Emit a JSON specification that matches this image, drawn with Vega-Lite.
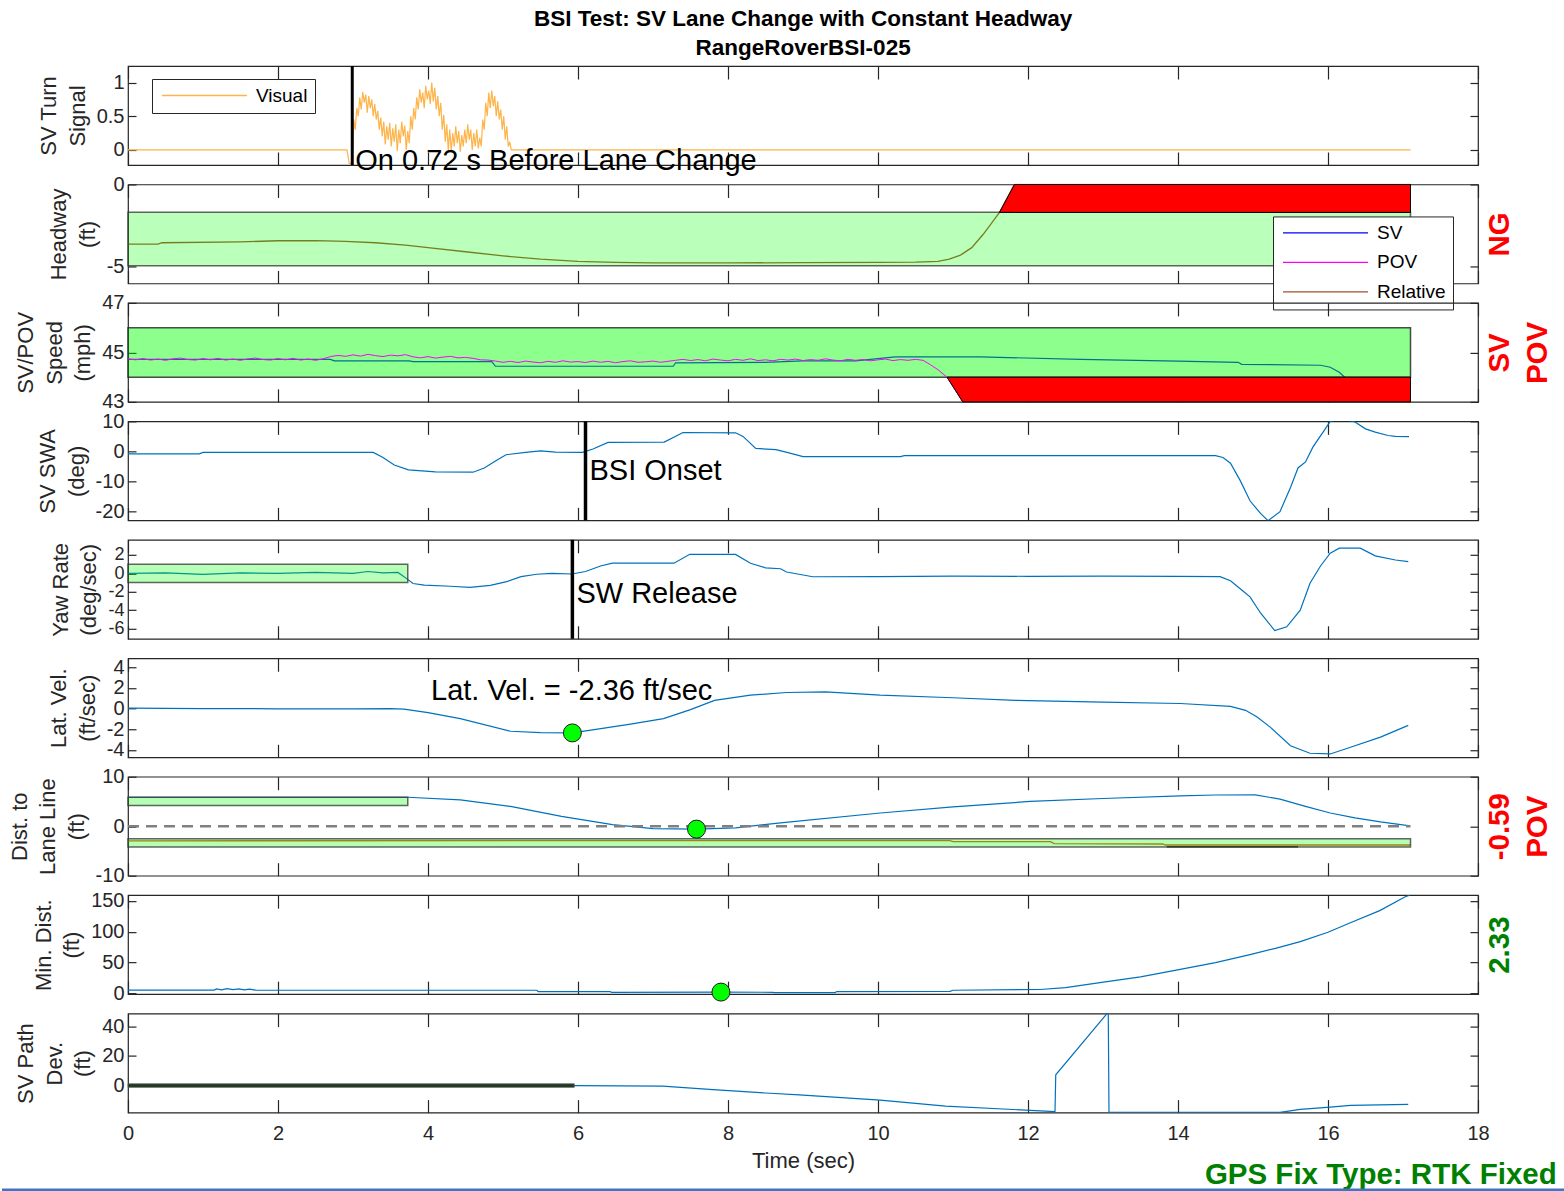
{
"$schema": "https://vega.github.io/schema/vega-lite/v6.json",
"background": "white",
"padding": {"left": 0, "top": 8, "right": 0, "bottom": 0},
"title": {"text": ["BSI Test: SV Lane Change with Constant Headway", "RangeRoverBSI-025"], "font": "Liberation Sans", "fontSize": 22.5, "fontWeight": "bold", "color": "#000000", "lineHeight": 29, "anchor": "middle", "offset": 4, "dx": 20},
"spacing": 19.45,
"bounds": "flush",
"resolve": {"scale": {"color": "independent"}, "legend": {"color": "independent"}},
"config": {
  "font": "Liberation Sans",
  "view": {"stroke": "#262626", "strokeWidth": 1.2},
  "axis": {"grid": false, "domain": false, "labelFont": "Liberation Sans", "labelFontSize": 20, "labelColor": "#262626", "titleFont": "Liberation Sans", "titleFontSize": 22, "titleFontWeight": "normal", "titleColor": "#262626", "tickColor": "#262626", "tickWidth": 1.2, "labelOverlap": false, "labelBound": false, "labelFlush": false, "labelExpr": "'' + datum.value"},
  "axisX": {"tickSize": -13, "labelPadding": 24, "titlePadding": 7},
  "axisY": {"tickSize": -8, "labelPadding": 12, "titlePadding": 7, "titleLineHeight": 28.5}
},
"datasets": {
  "turn": [{"t":0,"v":0},{"t":2.92,"v":0},{"t":2.95,"v":-0.2},{"t":2.98,"v":-0.2},{"t":3.0,"v":0.05},{"t":3.01,"v":0.45},{"t":3.03,"v":0.3},{"t":3.05,"v":0.62},{"t":3.07,"v":0.5},{"t":3.09,"v":0.78},{"t":3.11,"v":0.6},{"t":3.13,"v":0.86},{"t":3.15,"v":0.7},{"t":3.17,"v":0.82},{"t":3.19,"v":0.55},{"t":3.21,"v":0.8},{"t":3.23,"v":0.62},{"t":3.25,"v":0.75},{"t":3.27,"v":0.5},{"t":3.29,"v":0.68},{"t":3.31,"v":0.45},{"t":3.33,"v":0.58},{"t":3.35,"v":0.3},{"t":3.37,"v":0.48},{"t":3.39,"v":0.2},{"t":3.41,"v":0.42},{"t":3.43,"v":0.08},{"t":3.45,"v":0.35},{"t":3.47,"v":0.15},{"t":3.49,"v":0.4},{"t":3.51,"v":0.05},{"t":3.53,"v":0.32},{"t":3.55,"v":0.12},{"t":3.57,"v":0.38},{"t":3.59,"v":-0.02},{"t":3.61,"v":0.3},{"t":3.63,"v":0.1},{"t":3.65,"v":0.42},{"t":3.67,"v":0.2},{"t":3.69,"v":0.36},{"t":3.71,"v":0.0},{"t":3.73,"v":0.28},{"t":3.75,"v":0.1},{"t":3.77,"v":0.5},{"t":3.79,"v":0.3},{"t":3.81,"v":0.62},{"t":3.83,"v":0.45},{"t":3.85,"v":0.78},{"t":3.87,"v":0.6},{"t":3.89,"v":0.9},{"t":3.91,"v":0.7},{"t":3.93,"v":0.85},{"t":3.95,"v":0.62},{"t":3.97,"v":0.95},{"t":3.99,"v":0.75},{"t":4.01,"v":0.88},{"t":4.03,"v":0.68},{"t":4.05,"v":1.0},{"t":4.07,"v":0.72},{"t":4.09,"v":0.92},{"t":4.11,"v":0.6},{"t":4.13,"v":0.8},{"t":4.15,"v":0.5},{"t":4.17,"v":0.7},{"t":4.19,"v":0.3},{"t":4.21,"v":0.52},{"t":4.23,"v":0.12},{"t":4.25,"v":0.38},{"t":4.27,"v":0.0},{"t":4.29,"v":0.3},{"t":4.31,"v":-0.02},{"t":4.33,"v":0.25},{"t":4.35,"v":0.05},{"t":4.37,"v":0.35},{"t":4.39,"v":0.1},{"t":4.41,"v":0.28},{"t":4.43,"v":-0.03},{"t":4.45,"v":0.22},{"t":4.47,"v":0.05},{"t":4.49,"v":0.3},{"t":4.51,"v":0.1},{"t":4.53,"v":0.38},{"t":4.55,"v":0.15},{"t":4.57,"v":0.3},{"t":4.59,"v":0.0},{"t":4.61,"v":0.25},{"t":4.63,"v":0.05},{"t":4.65,"v":0.3},{"t":4.67,"v":0.02},{"t":4.69,"v":0.18},{"t":4.71,"v":0.05},{"t":4.73,"v":0.45},{"t":4.75,"v":0.3},{"t":4.77,"v":0.7},{"t":4.79,"v":0.5},{"t":4.81,"v":0.85},{"t":4.83,"v":0.62},{"t":4.85,"v":0.88},{"t":4.87,"v":0.65},{"t":4.89,"v":0.8},{"t":4.91,"v":0.5},{"t":4.93,"v":0.72},{"t":4.95,"v":0.45},{"t":4.97,"v":0.6},{"t":4.99,"v":0.3},{"t":5.01,"v":0.5},{"t":5.03,"v":0.15},{"t":5.05,"v":0.35},{"t":5.07,"v":0.05},{"t":5.09,"v":0.12},{"t":5.11,"v":0.0},{"t":17.1,"v":0}],
  "turn_on": [{"t":2.99,"v":-0.173,"label":"On 0.72 s Before Lane Change"}],
  "headway": [{"t":0,"v":-3.64},{"t":0.4,"v":-3.63},{"t":0.45,"v":-3.55},{"t":1.5,"v":-3.5},{"t":2.0,"v":-3.43},{"t":2.5,"v":-3.42},{"t":2.9,"v":-3.47},{"t":3.3,"v":-3.55},{"t":3.7,"v":-3.7},{"t":4.0,"v":-3.85},{"t":4.5,"v":-4.1},{"t":5.0,"v":-4.35},{"t":5.5,"v":-4.55},{"t":6.0,"v":-4.68},{"t":6.5,"v":-4.75},{"t":7.0,"v":-4.78},{"t":8.0,"v":-4.78},{"t":9.0,"v":-4.76},{"t":10.0,"v":-4.75},{"t":10.5,"v":-4.73},{"t":10.8,"v":-4.68},{"t":10.95,"v":-4.55},{"t":11.1,"v":-4.3},{"t":11.25,"v":-3.85},{"t":11.4,"v":-3.05},{"t":11.5,"v":-2.45},{"t":11.62,"v":-1.7},{"t":11.82,"v":0},{"t":11.95,"v":0.9}],
  "headway_band": [{"t":0,"t2":17.1,"v":-4.95,"v2":-1.7}],
  "headway_red": [{"t":11.62,"v":-1.7,"v2":-1.7},{"t":11.82,"v":0,"v2":-1.7},{"t":17.1,"v":0,"v2":-1.7}],
  "sv_speed": [{"t":0,"v":44.72},{"t":2.7,"v":44.72},{"t":2.75,"v":44.66},{"t":3.75,"v":44.66},{"t":3.8,"v":44.63},{"t":4.85,"v":44.63},{"t":4.9,"v":44.44},{"t":7.27,"v":44.44},{"t":7.3,"v":44.58},{"t":8.5,"v":44.6},{"t":9.0,"v":44.66},{"t":9.7,"v":44.66},{"t":10.23,"v":44.82},{"t":11.36,"v":44.82},{"t":12.7,"v":44.72},{"t":14.0,"v":44.65},{"t":14.8,"v":44.6},{"t":14.85,"v":44.52},{"t":15.9,"v":44.48},{"t":16.03,"v":44.4},{"t":16.15,"v":44.2},{"t":16.23,"v":43.98},{"t":16.4,"v":43.7}],
  "pov_speed": [{"t":0.0,"v":44.74},{"t":0.1,"v":44.7},{"t":0.2,"v":44.75},{"t":0.3,"v":44.69},{"t":0.4,"v":44.73},{"t":0.5,"v":44.68},{"t":0.6,"v":44.74},{"t":0.7,"v":44.77},{"t":0.8,"v":44.71},{"t":0.9,"v":44.69},{"t":1.0,"v":44.75},{"t":1.1,"v":44.7},{"t":1.2,"v":44.76},{"t":1.3,"v":44.69},{"t":1.4,"v":44.73},{"t":1.5,"v":44.68},{"t":1.6,"v":44.74},{"t":1.7,"v":44.77},{"t":1.8,"v":44.71},{"t":1.9,"v":44.69},{"t":2.0,"v":44.75},{"t":2.1,"v":44.7},{"t":2.2,"v":44.76},{"t":2.3,"v":44.69},{"t":2.4,"v":44.73},{"t":2.5,"v":44.68},{"t":2.6,"v":44.74},{"t":2.7,"v":44.83},{"t":2.8,"v":44.88},{"t":2.9,"v":44.84},{"t":3.0,"v":44.9},{"t":3.1,"v":44.85},{"t":3.2,"v":44.92},{"t":3.3,"v":44.87},{"t":3.4,"v":44.83},{"t":3.5,"v":44.89},{"t":3.6,"v":44.86},{"t":3.7,"v":44.91},{"t":3.8,"v":44.82},{"t":3.9,"v":44.78},{"t":4.0,"v":44.83},{"t":4.1,"v":44.77},{"t":4.2,"v":44.81},{"t":4.3,"v":44.84},{"t":4.4,"v":44.78},{"t":4.5,"v":44.8},{"t":4.6,"v":44.76},{"t":4.7,"v":44.7},{"t":4.8,"v":44.69},{"t":4.9,"v":44.65},{"t":5.0,"v":44.6},{"t":5.1,"v":44.64},{"t":5.2,"v":44.59},{"t":5.3,"v":44.65},{"t":5.4,"v":44.61},{"t":5.5,"v":44.58},{"t":5.6,"v":44.64},{"t":5.7,"v":44.6},{"t":5.8,"v":44.66},{"t":5.9,"v":44.61},{"t":6.0,"v":44.63},{"t":6.1,"v":44.59},{"t":6.2,"v":44.65},{"t":6.3,"v":44.6},{"t":6.4,"v":44.64},{"t":6.5,"v":44.58},{"t":6.6,"v":44.63},{"t":6.7,"v":44.66},{"t":6.8,"v":44.6},{"t":6.9,"v":44.62},{"t":7.0,"v":44.65},{"t":7.1,"v":44.6},{"t":7.2,"v":44.64},{"t":7.3,"v":44.68},{"t":7.4,"v":44.72},{"t":7.5,"v":44.67},{"t":7.6,"v":44.71},{"t":7.7,"v":44.66},{"t":7.8,"v":44.73},{"t":7.9,"v":44.69},{"t":8.0,"v":44.66},{"t":8.1,"v":44.72},{"t":8.2,"v":44.68},{"t":8.3,"v":44.74},{"t":8.4,"v":44.67},{"t":8.5,"v":44.7},{"t":8.6,"v":44.66},{"t":8.7,"v":44.72},{"t":8.8,"v":44.69},{"t":8.9,"v":44.73},{"t":9.0,"v":44.67},{"t":9.1,"v":44.71},{"t":9.2,"v":44.68},{"t":9.3,"v":44.74},{"t":9.4,"v":44.69},{"t":9.5,"v":44.66},{"t":9.6,"v":44.72},{"t":9.7,"v":44.68},{"t":9.8,"v":44.71},{"t":9.9,"v":44.66},{"t":10.0,"v":44.7},{"t":10.1,"v":44.73},{"t":10.2,"v":44.67},{"t":10.3,"v":44.71},{"t":10.4,"v":44.68},{"t":10.5,"v":44.72},{"t":10.6,"v":44.68},{"t":10.7,"v":44.5},{"t":10.8,"v":44.3},{"t":10.92,"v":44.0},{"t":11.13,"v":43.0}],
  "speed_band": [{"t":0,"t2":17.1,"v":44,"v2":46}],
  "speed_red": [{"t":10.92,"v":44,"v2":44},{"t":11.13,"v":44,"v2":43},{"t":17.1,"v":44,"v2":43}],
  "swa": [{"t":0,"v":-0.8},{"t":0.95,"v":-0.8},{"t":1.0,"v":-0.3},{"t":3.27,"v":-0.3},{"t":3.4,"v":-2.0},{"t":3.55,"v":-4.5},{"t":3.74,"v":-6.1},{"t":4.1,"v":-6.8},{"t":4.6,"v":-6.9},{"t":4.75,"v":-5.5},{"t":4.9,"v":-3.2},{"t":5.04,"v":-1.1},{"t":5.3,"v":-0.3},{"t":5.5,"v":0.2},{"t":5.7,"v":-0.2},{"t":6.06,"v":-0.3},{"t":6.2,"v":0.8},{"t":6.4,"v":3.0},{"t":7.15,"v":3.1},{"t":7.4,"v":6.3},{"t":8.1,"v":6.2},{"t":8.2,"v":5.0},{"t":8.37,"v":1.0},{"t":8.64,"v":0.6},{"t":8.8,"v":-0.4},{"t":9.0,"v":-1.7},{"t":10.3,"v":-1.7},{"t":10.35,"v":-1.4},{"t":14.5,"v":-1.4},{"t":14.6,"v":-2.0},{"t":14.7,"v":-3.9},{"t":14.83,"v":-9.7},{"t":14.96,"v":-16.4},{"t":15.1,"v":-20.6},{"t":15.2,"v":-23},{"t":15.36,"v":-20},{"t":15.5,"v":-12},{"t":15.6,"v":-5.5},{"t":15.7,"v":-3.5},{"t":15.8,"v":1.5},{"t":15.95,"v":7},{"t":16.03,"v":10},{"t":16.1,"v":10.4},{"t":16.25,"v":10.4},{"t":16.36,"v":9.8},{"t":16.5,"v":7.5},{"t":16.63,"v":6.4},{"t":16.8,"v":5.3},{"t":16.9,"v":5.0},{"t":17.08,"v":4.9}],
  "onset": [{"t":6.1,"v":-6.53,"label":"BSI Onset"}],
  "yaw": [{"t":0,"v":0},{"t":0.5,"v":0.05},{"t":1,"v":-0.1},{"t":1.5,"v":0.05},{"t":2,"v":0},{"t":2.5,"v":0.1},{"t":3.0,"v":0.0},{"t":3.2,"v":0.2},{"t":3.4,"v":0.05},{"t":3.6,"v":0.1},{"t":3.72,"v":-0.6},{"t":3.8,"v":-1.1},{"t":3.95,"v":-1.28},{"t":4.3,"v":-1.4},{"t":4.56,"v":-1.53},{"t":4.83,"v":-1.3},{"t":5.05,"v":-0.9},{"t":5.24,"v":-0.36},{"t":5.45,"v":-0.1},{"t":5.65,"v":0.0},{"t":5.92,"v":-0.07},{"t":6.1,"v":0.2},{"t":6.3,"v":0.8},{"t":6.46,"v":1.1},{"t":7.28,"v":1.1},{"t":7.49,"v":2.07},{"t":8.1,"v":2.05},{"t":8.3,"v":1.1},{"t":8.5,"v":0.6},{"t":8.7,"v":0.5},{"t":8.78,"v":0.15},{"t":9.13,"v":-0.37},{"t":10,"v":-0.35},{"t":11,"v":-0.3},{"t":12,"v":-0.32},{"t":13,"v":-0.3},{"t":14,"v":-0.32},{"t":14.56,"v":-0.35},{"t":14.7,"v":-0.8},{"t":14.85,"v":-1.8},{"t":14.96,"v":-2.55},{"t":15.1,"v":-4.3},{"t":15.29,"v":-6.2},{"t":15.45,"v":-5.8},{"t":15.63,"v":-4.0},{"t":15.76,"v":-1.07},{"t":15.9,"v":0.8},{"t":16.03,"v":2.18},{"t":16.15,"v":2.73},{"t":16.43,"v":2.73},{"t":16.63,"v":1.9},{"t":16.9,"v":1.45},{"t":17.07,"v":1.27}],
  "yaw_band": [{"t":0,"t2":3.73,"v":-1,"v2":1}],
  "release": [{"t":5.925,"v":-2.19,"label":"SW Release"}],
  "latvel": [{"t":0,"v":0.05},{"t":1.0,"v":0.0},{"t":2.0,"v":-0.02},{"t":3.0,"v":-0.02},{"t":3.5,"v":0.0},{"t":3.68,"v":-0.05},{"t":4.0,"v":-0.4},{"t":4.43,"v":-0.98},{"t":5.1,"v":-2.2},{"t":5.5,"v":-2.33},{"t":5.925,"v":-2.36},{"t":6.26,"v":-2.0},{"t":6.7,"v":-1.5},{"t":7.14,"v":-0.98},{"t":7.5,"v":-0.1},{"t":7.82,"v":0.8},{"t":8.3,"v":1.3},{"t":8.78,"v":1.56},{"t":9.3,"v":1.62},{"t":10.03,"v":1.3},{"t":11.0,"v":1.05},{"t":11.83,"v":0.8},{"t":13.0,"v":0.62},{"t":14.03,"v":0.49},{"t":14.7,"v":0.22},{"t":14.9,"v":-0.17},{"t":15.05,"v":-0.8},{"t":15.23,"v":-1.8},{"t":15.5,"v":-3.6},{"t":15.76,"v":-4.33},{"t":16.03,"v":-4.4},{"t":16.3,"v":-3.75},{"t":16.7,"v":-2.77},{"t":17.07,"v":-1.63}],
  "latvel_pt": [{"t":5.925,"v":-2.36}],
  "latvel_note": [{"t":4.04,"v":1.66,"label":"Lat. Vel. = -2.36 ft/sec"}],
  "lane": [{"t":0,"v":5.85},{"t":3.73,"v":5.85},{"t":4.43,"v":5.33},{"t":5.1,"v":4.0},{"t":5.78,"v":2.0},{"t":6.46,"v":0.3},{"t":6.67,"v":0.0},{"t":7.0,"v":-0.47},{"t":7.58,"v":-0.59},{"t":8.1,"v":-0.33},{"t":8.7,"v":0.67},{"t":10.03,"v":2.67},{"t":11.0,"v":3.9},{"t":12.03,"v":5.0},{"t":13.0,"v":5.6},{"t":14.03,"v":6.13},{"t":14.5,"v":6.3},{"t":15.03,"v":6.33},{"t":15.36,"v":5.47},{"t":15.7,"v":4.0},{"t":16.03,"v":2.67},{"t":16.36,"v":1.67},{"t":16.7,"v":0.87},{"t":17.07,"v":0.13}],
  "lane_pov": [{"t":0,"v":-2.95},{"t":10.96,"v":-2.9},{"t":11.0,"v":-3.12},{"t":12.3,"v":-3.12},{"t":12.35,"v":-3.52},{"t":13.8,"v":-3.6},{"t":13.83,"v":-3.8},{"t":17.1,"v":-3.8}],
  "lane_edge": [{"t":13.85,"v":-4.15},{"t":15.6,"v":-4.15}],
  "lane_bands": [{"t":0,"t2":3.73,"v":4.2,"v2":5.87},{"t":0,"t2":17.1,"v":-4.2,"v2":-2.56}],
  "lane_zero": [{"t":0,"t2":17.1,"v":0}],
  "lane_pt": [{"t":7.58,"v":-0.59}],
  "mindist": [{"t":0,"v":5.5},{"t":1.15,"v":5.5},{"t":1.18,"v":7.5},{"t":1.25,"v":6.0},{"t":1.32,"v":7.8},{"t":1.4,"v":6.2},{"t":1.48,"v":7.6},{"t":1.55,"v":6.0},{"t":1.62,"v":7.2},{"t":1.7,"v":5.6},{"t":5.45,"v":5.3},{"t":5.47,"v":3.2},{"t":6.43,"v":3.0},{"t":6.45,"v":1.8},{"t":7.906,"v":2.33},{"t":8.6,"v":2.0},{"t":8.62,"v":1.5},{"t":9.43,"v":1.5},{"t":9.45,"v":3.2},{"t":10.96,"v":3.5},{"t":11.0,"v":5.3},{"t":12.16,"v":6.5},{"t":12.5,"v":9.5},{"t":12.96,"v":17.6},{"t":13.5,"v":27},{"t":14.03,"v":39},{"t":14.5,"v":50},{"t":14.96,"v":63},{"t":15.3,"v":73},{"t":15.63,"v":84},{"t":16.0,"v":99},{"t":16.29,"v":114},{"t":16.69,"v":134},{"t":17.03,"v":156.4},{"t":17.09,"v":159}],
  "mindist_pt": [{"t":7.906,"v":2.33}],
  "pathdev": [{"t":0,"v":0},{"t":5.95,"v":0},{"t":7.13,"v":-0.3},{"t":7.8,"v":-2.7},{"t":8.5,"v":-5.0},{"t":8.95,"v":-6.3},{"t":10.03,"v":-9.8},{"t":10.9,"v":-13.8},{"t":12.03,"v":-16.7},{"t":12.36,"v":-17.6},{"t":12.37,"v":7.3},{"t":13.07,"v":49.5},{"t":13.08,"v":-18.1},{"t":15.36,"v":-18.1},{"t":15.63,"v":-16},{"t":16.03,"v":-14.5},{"t":16.3,"v":-13.3},{"t":17.07,"v":-12.7}],
  "path_box": [{"t":0,"t2":5.95,"v":-1.2,"v2":1.2}],
  "footer": [{"t":19.05,"v":-60.5,"label":"GPS Fix Type: RTK Fixed"}],
  "footer_rule": [{"t":-1.68,"t2":19.15,"v":-70.2}]
},
"vconcat": [
{
  "width": 1350, "height": 99,
  "resolve": {"scale": {"x": "independent", "y": "independent"}},
  "layer": [
    {"data": {"name": "turn"}, "mark": {"type": "line", "clip": true, "strokeWidth": 1.2},
     "encoding": {
       "x": {"field": "t", "type": "quantitative", "scale": {"domain": [0, 18], "nice": false, "zero": false}, "axis": {"orient": "bottom", "values": [0,2,4,6,8,10,12,14,16,18], "labels": false, "title": null}},
       "y": {"field": "v", "type": "quantitative", "scale": {"domain": [-0.225, 1.245], "nice": false, "zero": false}, "axis": {"orient": "left", "values": [0, 0.5, 1], "title": ["SV Turn", "Signal"]}},
       "color": {"datum": "Visual", "type": "nominal", "scale": {"domain": ["Visual"], "range": ["#FDB44B"]}, "legend": {"orient": "none", "legendX": 24, "legendY": 13, "title": null, "symbolType": "M-5,0H5", "symbolSize": 289, "symbolStrokeWidth": 1.3, "symbolOffset": 36, "labelOffset": 42, "padding": 7, "rowPadding": 9.5, "strokeColor": "#262626", "fillColor": "#ffffff", "labelFont": "Liberation Sans", "labelFontSize": 19, "labelColor": "#000000"}}
     }},
    {"data": {"name": "turn_on"}, "mark": {"type": "rule", "color": "#000000", "strokeWidth": 3},
     "encoding": {"x": {"field": "t", "type": "quantitative", "scale": {"domain": [0, 18], "nice": false, "zero": false}, "axis": null}}},
    {"data": {"name": "turn_on"}, "mark": {"type": "text", "align": "left", "baseline": "middle", "dx": 3, "font": "Liberation Sans", "fontSize": 29, "color": "#000000"},
     "encoding": {
       "x": {"field": "t", "type": "quantitative", "scale": {"domain": [0, 18], "nice": false, "zero": false}, "axis": null},
       "y": {"field": "v", "type": "quantitative", "scale": {"domain": [-0.225, 1.245], "nice": false, "zero": false}, "axis": null},
       "text": {"field": "label"}
     }},
    {"data": {"name": "turn"}, "mark": {"type": "point", "opacity": 0, "clip": true},
     "encoding": {
       "x": {"field": "t", "type": "quantitative", "scale": {"domain": [0, 18], "nice": false, "zero": false}, "axis": {"orient": "top", "values": [0,2,4,6,8,10,12,14,16,18], "labels": false, "title": null}},
       "y": {"field": "v", "type": "quantitative", "scale": {"domain": [-0.225, 1.245], "nice": false, "zero": false}, "axis": {"orient": "right", "values": [0, 0.5, 1], "labels": false, "title": null}}
     }}
  ]
},
{
  "width": 1350, "height": 99,
  "resolve": {"scale": {"x": "independent", "y": "independent"}},
  "layer": [
    {"data": {"name": "headway"}, "mark": {"type": "line", "clip": true, "strokeWidth": 1.3},
     "encoding": {
       "x": {"field": "t", "type": "quantitative", "scale": {"domain": [0, 18], "nice": false, "zero": false}, "axis": {"orient": "bottom", "values": [0,2,4,6,8,10,12,14,16,18], "labels": false, "title": null}},
       "y": {"field": "v", "type": "quantitative", "scale": {"domain": [-6.03, 0], "nice": false, "zero": false}, "axis": {"orient": "left", "values": [-5, 0], "title": ["Headway", "(ft)"]}},
       "color": {"datum": "Relative", "type": "nominal", "scale": {"domain": ["SV", "POV", "Relative"], "range": ["#0000FF", "#FF00FF", "#A0522D"]}, "legend": {"orient": "none", "legendX": 1145, "legendY": 32, "title": null, "symbolType": "M-5,0H5", "symbolSize": 289, "symbolStrokeWidth": 1.3, "symbolOffset": 36, "labelOffset": 42, "padding": 7, "rowPadding": 9.5, "strokeColor": "#262626", "fillColor": "#ffffff", "labelFont": "Liberation Sans", "labelFontSize": 19, "labelColor": "#000000", "zindex": 2}}
     }},
    {"data": {"name": "headway_band"}, "mark": {"type": "rect", "fill": "#00FF00", "fillOpacity": 0.27, "stroke": "#333333", "strokeWidth": 1.5, "strokeOpacity": 0.75},
     "encoding": {
       "x": {"field": "t", "type": "quantitative", "scale": {"domain": [0, 18], "nice": false, "zero": false}, "axis": null},
       "x2": {"field": "t2"},
       "y": {"field": "v", "type": "quantitative", "scale": {"domain": [-6.03, 0], "nice": false, "zero": false}, "axis": null},
       "y2": {"field": "v2"}
     }},
    {"data": {"name": "headway_red"}, "mark": {"type": "area", "color": "#FF0000", "opacity": 1, "stroke": "#000000", "strokeWidth": 1},
     "encoding": {
       "x": {"field": "t", "type": "quantitative", "scale": {"domain": [0, 18], "nice": false, "zero": false}, "axis": null},
       "y": {"field": "v", "type": "quantitative", "scale": {"domain": [-6.03, 0], "nice": false, "zero": false}, "axis": null},
       "y2": {"field": "v2"}
     }},
    {"data": {"name": "headway"}, "mark": {"type": "point", "opacity": 0, "clip": true},
     "encoding": {
       "x": {"field": "t", "type": "quantitative", "scale": {"domain": [0, 18], "nice": false, "zero": false}, "axis": {"orient": "top", "values": [0,2,4,6,8,10,12,14,16,18], "labels": false, "title": null}},
       "y": {"field": "v", "type": "quantitative", "scale": {"domain": [-6.03, 0], "nice": false, "zero": false}, "axis": {"orient": "right", "values": [-5, 0], "labels": false, "title": "NG", "titleColor": "#FF0000", "titleFontSize": 29.5, "titleFontWeight": "bold", "titleAngle": 270, "titleBaseline": "top", "titlePadding": 7, "titleLineHeight": 37.5}}
     }}
  ]
},
{
  "width": 1350, "height": 99,
  "resolve": {"scale": {"x": "independent", "y": "independent"}},
  "layer": [
    {"data": {"name": "sv_speed"}, "mark": {"type": "line", "clip": true, "strokeWidth": 1.2, "color": "#0000FF"},
     "encoding": {
       "x": {"field": "t", "type": "quantitative", "scale": {"domain": [0, 18], "nice": false, "zero": false}, "axis": {"orient": "bottom", "values": [0,2,4,6,8,10,12,14,16,18], "labels": false, "title": null}},
       "y": {"field": "v", "type": "quantitative", "scale": {"domain": [43, 47], "nice": false, "zero": false}, "axis": {"orient": "left", "values": [43, 45, 47], "title": ["SV/POV", "Speed", "(mph)"]}}
     }},
    {"data": {"name": "speed_band"}, "mark": {"type": "rect", "fill": "#00FF00", "fillOpacity": 0.45, "stroke": "#222222", "strokeWidth": 1.5, "strokeOpacity": 0.8},
     "encoding": {
       "x": {"field": "t", "type": "quantitative", "scale": {"domain": [0, 18], "nice": false, "zero": false}, "axis": null},
       "x2": {"field": "t2"},
       "y": {"field": "v", "type": "quantitative", "scale": {"domain": [43, 47], "nice": false, "zero": false}, "axis": null},
       "y2": {"field": "v2"}
     }},
    {"data": {"name": "pov_speed"}, "mark": {"type": "line", "clip": true, "strokeWidth": 1, "color": "#FF00FF"},
     "encoding": {
       "x": {"field": "t", "type": "quantitative", "scale": {"domain": [0, 18], "nice": false, "zero": false}, "axis": null},
       "y": {"field": "v", "type": "quantitative", "scale": {"domain": [43, 47], "nice": false, "zero": false}, "axis": null}
     }},
    {"data": {"name": "speed_red"}, "mark": {"type": "area", "color": "#FF0000", "opacity": 1, "stroke": "#000000", "strokeWidth": 1},
     "encoding": {
       "x": {"field": "t", "type": "quantitative", "scale": {"domain": [0, 18], "nice": false, "zero": false}, "axis": null},
       "y": {"field": "v", "type": "quantitative", "scale": {"domain": [43, 47], "nice": false, "zero": false}, "axis": null},
       "y2": {"field": "v2"}
     }},
    {"data": {"name": "sv_speed"}, "mark": {"type": "point", "opacity": 0, "clip": true},
     "encoding": {
       "x": {"field": "t", "type": "quantitative", "scale": {"domain": [0, 18], "nice": false, "zero": false}, "axis": {"orient": "top", "values": [0,2,4,6,8,10,12,14,16,18], "labels": false, "title": null}},
       "y": {"field": "v", "type": "quantitative", "scale": {"domain": [43, 47], "nice": false, "zero": false}, "axis": {"orient": "right", "values": [43, 45, 47], "labels": false, "title": ["SV", "POV"], "titleColor": "#FF0000", "titleFontSize": 29.5, "titleFontWeight": "bold", "titleAngle": 270, "titleBaseline": "top", "titlePadding": -30.5, "titleLineHeight": 37.5}}
     }}
  ]
},
{
  "width": 1350, "height": 99,
  "resolve": {"scale": {"x": "independent", "y": "independent"}},
  "layer": [
    {"data": {"name": "swa"}, "mark": {"type": "line", "clip": true, "strokeWidth": 1.2, "color": "#0072BD"},
     "encoding": {
       "x": {"field": "t", "type": "quantitative", "scale": {"domain": [0, 18], "nice": false, "zero": false}, "axis": {"orient": "bottom", "values": [0,2,4,6,8,10,12,14,16,18], "labels": false, "title": null}},
       "y": {"field": "v", "type": "quantitative", "scale": {"domain": [-22.9, 10], "nice": false, "zero": false}, "axis": {"orient": "left", "values": [-20, -10, 0, 10], "title": ["SV SWA", "(deg)"]}}
     }},
    {"data": {"name": "onset"}, "mark": {"type": "rule", "color": "#000000", "strokeWidth": 3.5},
     "encoding": {"x": {"field": "t", "type": "quantitative", "scale": {"domain": [0, 18], "nice": false, "zero": false}, "axis": null}}},
    {"data": {"name": "onset"}, "mark": {"type": "text", "align": "left", "baseline": "middle", "dx": 4, "font": "Liberation Sans", "fontSize": 29, "color": "#000000"},
     "encoding": {
       "x": {"field": "t", "type": "quantitative", "scale": {"domain": [0, 18], "nice": false, "zero": false}, "axis": null},
       "y": {"field": "v", "type": "quantitative", "scale": {"domain": [-22.9, 10], "nice": false, "zero": false}, "axis": null},
       "text": {"field": "label"}
     }},
    {"data": {"name": "swa"}, "mark": {"type": "point", "opacity": 0, "clip": true},
     "encoding": {
       "x": {"field": "t", "type": "quantitative", "scale": {"domain": [0, 18], "nice": false, "zero": false}, "axis": {"orient": "top", "values": [0,2,4,6,8,10,12,14,16,18], "labels": false, "title": null}},
       "y": {"field": "v", "type": "quantitative", "scale": {"domain": [-22.9, 10], "nice": false, "zero": false}, "axis": {"orient": "right", "values": [-20, -10, 0, 10], "labels": false, "title": null}}
     }}
  ]
},
{
  "width": 1350, "height": 99,
  "resolve": {"scale": {"x": "independent", "y": "independent"}},
  "layer": [
    {"data": {"name": "yaw"}, "mark": {"type": "line", "clip": true, "strokeWidth": 1.2, "color": "#0072BD"},
     "encoding": {
       "x": {"field": "t", "type": "quantitative", "scale": {"domain": [0, 18], "nice": false, "zero": false}, "axis": {"orient": "bottom", "values": [0,2,4,6,8,10,12,14,16,18], "labels": false, "title": null}},
       "y": {"field": "v", "type": "quantitative", "scale": {"domain": [-7.1, 3.64], "nice": false, "zero": false}, "axis": {"orient": "left", "values": [-6, -4, -2, 0, 2], "labelFontSize": 18, "title": ["Yaw Rate", "(deg/sec)"]}}
     }},
    {"data": {"name": "yaw_band"}, "mark": {"type": "rect", "fill": "#00FF00", "fillOpacity": 0.28, "stroke": "#333333", "strokeWidth": 1.5, "strokeOpacity": 0.75},
     "encoding": {
       "x": {"field": "t", "type": "quantitative", "scale": {"domain": [0, 18], "nice": false, "zero": false}, "axis": null},
       "x2": {"field": "t2"},
       "y": {"field": "v", "type": "quantitative", "scale": {"domain": [-7.1, 3.64], "nice": false, "zero": false}, "axis": null},
       "y2": {"field": "v2"}
     }},
    {"data": {"name": "release"}, "mark": {"type": "rule", "color": "#000000", "strokeWidth": 3.5},
     "encoding": {"x": {"field": "t", "type": "quantitative", "scale": {"domain": [0, 18], "nice": false, "zero": false}, "axis": null}}},
    {"data": {"name": "release"}, "mark": {"type": "text", "align": "left", "baseline": "middle", "dx": 4, "font": "Liberation Sans", "fontSize": 29, "color": "#000000"},
     "encoding": {
       "x": {"field": "t", "type": "quantitative", "scale": {"domain": [0, 18], "nice": false, "zero": false}, "axis": null},
       "y": {"field": "v", "type": "quantitative", "scale": {"domain": [-7.1, 3.64], "nice": false, "zero": false}, "axis": null},
       "text": {"field": "label"}
     }},
    {"data": {"name": "yaw"}, "mark": {"type": "point", "opacity": 0, "clip": true},
     "encoding": {
       "x": {"field": "t", "type": "quantitative", "scale": {"domain": [0, 18], "nice": false, "zero": false}, "axis": {"orient": "top", "values": [0,2,4,6,8,10,12,14,16,18], "labels": false, "title": null}},
       "y": {"field": "v", "type": "quantitative", "scale": {"domain": [-7.1, 3.64], "nice": false, "zero": false}, "axis": {"orient": "right", "values": [-6, -4, -2, 0, 2], "labels": false, "title": null}}
     }}
  ]
},
{
  "width": 1350, "height": 99,
  "resolve": {"scale": {"x": "independent", "y": "independent"}},
  "layer": [
    {"data": {"name": "latvel"}, "mark": {"type": "line", "clip": true, "strokeWidth": 1.2, "color": "#0072BD"},
     "encoding": {
       "x": {"field": "t", "type": "quantitative", "scale": {"domain": [0, 18], "nice": false, "zero": false}, "axis": {"orient": "bottom", "values": [0,2,4,6,8,10,12,14,16,18], "labels": false, "title": null}},
       "y": {"field": "v", "type": "quantitative", "scale": {"domain": [-4.72, 4.88], "nice": false, "zero": false}, "axis": {"orient": "left", "values": [-4, -2, 0, 2, 4], "title": ["Lat. Vel.", "(ft/sec)"]}}
     }},
    {"data": {"name": "latvel_pt"}, "mark": {"type": "point", "shape": "circle", "filled": true, "size": 324, "fill": "#00FF00", "stroke": "#1a1a1a", "strokeWidth": 1, "opacity": 1},
     "encoding": {
       "x": {"field": "t", "type": "quantitative", "scale": {"domain": [0, 18], "nice": false, "zero": false}, "axis": null},
       "y": {"field": "v", "type": "quantitative", "scale": {"domain": [-4.72, 4.88], "nice": false, "zero": false}, "axis": null}
     }},
    {"data": {"name": "latvel_note"}, "mark": {"type": "text", "align": "left", "baseline": "middle", "font": "Liberation Sans", "fontSize": 29, "color": "#000000"},
     "encoding": {
       "x": {"field": "t", "type": "quantitative", "scale": {"domain": [0, 18], "nice": false, "zero": false}, "axis": null},
       "y": {"field": "v", "type": "quantitative", "scale": {"domain": [-4.72, 4.88], "nice": false, "zero": false}, "axis": null},
       "text": {"field": "label"}
     }},
    {"data": {"name": "latvel"}, "mark": {"type": "point", "opacity": 0, "clip": true},
     "encoding": {
       "x": {"field": "t", "type": "quantitative", "scale": {"domain": [0, 18], "nice": false, "zero": false}, "axis": {"orient": "top", "values": [0,2,4,6,8,10,12,14,16,18], "labels": false, "title": null}},
       "y": {"field": "v", "type": "quantitative", "scale": {"domain": [-4.72, 4.88], "nice": false, "zero": false}, "axis": {"orient": "right", "values": [-4, -2, 0, 2, 4], "labels": false, "title": null}}
     }}
  ]
},
{
  "width": 1350, "height": 99,
  "resolve": {"scale": {"x": "independent", "y": "independent"}},
  "layer": [
    {"data": {"name": "lane"}, "mark": {"type": "line", "clip": true, "strokeWidth": 1.2, "color": "#0072BD"},
     "encoding": {
       "x": {"field": "t", "type": "quantitative", "scale": {"domain": [0, 18], "nice": false, "zero": false}, "axis": {"orient": "bottom", "values": [0,2,4,6,8,10,12,14,16,18], "labels": false, "title": null}},
       "y": {"field": "v", "type": "quantitative", "scale": {"domain": [-10, 10], "nice": false, "zero": false}, "axis": {"orient": "left", "values": [-10, 0, 10], "title": ["Dist. to", "Lane Line", "(ft)"]}}
     }},
    {"data": {"name": "lane_pov"}, "mark": {"type": "line", "clip": true, "strokeWidth": 1.3, "color": "#E8501A"},
     "encoding": {
       "x": {"field": "t", "type": "quantitative", "scale": {"domain": [0, 18], "nice": false, "zero": false}, "axis": null},
       "y": {"field": "v", "type": "quantitative", "scale": {"domain": [-10, 10], "nice": false, "zero": false}, "axis": null}
     }},
    {"data": {"name": "lane_edge"}, "mark": {"type": "line", "clip": true, "strokeWidth": 1.5, "color": "#222222"},
     "encoding": {
       "x": {"field": "t", "type": "quantitative", "scale": {"domain": [0, 18], "nice": false, "zero": false}, "axis": null},
       "y": {"field": "v", "type": "quantitative", "scale": {"domain": [-10, 10], "nice": false, "zero": false}, "axis": null}
     }},
    {"data": {"name": "lane_bands"}, "mark": {"type": "rect", "fill": "#00FF00", "fillOpacity": 0.29, "stroke": "#333333", "strokeWidth": 1.5, "strokeOpacity": 0.75},
     "encoding": {
       "x": {"field": "t", "type": "quantitative", "scale": {"domain": [0, 18], "nice": false, "zero": false}, "axis": null},
       "x2": {"field": "t2"},
       "y": {"field": "v", "type": "quantitative", "scale": {"domain": [-10, 10], "nice": false, "zero": false}, "axis": null},
       "y2": {"field": "v2"}
     }},
    {"data": {"name": "lane_zero"}, "mark": {"type": "rule", "color": "#808080", "strokeWidth": 2.5, "strokeDash": [11, 7]},
     "encoding": {
       "x": {"field": "t", "type": "quantitative", "scale": {"domain": [0, 18], "nice": false, "zero": false}, "axis": null},
       "x2": {"field": "t2"},
       "y": {"field": "v", "type": "quantitative", "scale": {"domain": [-10, 10], "nice": false, "zero": false}, "axis": null}
     }},
    {"data": {"name": "lane_pt"}, "mark": {"type": "point", "shape": "circle", "filled": true, "size": 324, "fill": "#00FF00", "stroke": "#1a1a1a", "strokeWidth": 1, "opacity": 1},
     "encoding": {
       "x": {"field": "t", "type": "quantitative", "scale": {"domain": [0, 18], "nice": false, "zero": false}, "axis": null},
       "y": {"field": "v", "type": "quantitative", "scale": {"domain": [-10, 10], "nice": false, "zero": false}, "axis": null}
     }},
    {"data": {"name": "lane"}, "mark": {"type": "point", "opacity": 0, "clip": true},
     "encoding": {
       "x": {"field": "t", "type": "quantitative", "scale": {"domain": [0, 18], "nice": false, "zero": false}, "axis": {"orient": "top", "values": [0,2,4,6,8,10,12,14,16,18], "labels": false, "title": null}},
       "y": {"field": "v", "type": "quantitative", "scale": {"domain": [-10, 10], "nice": false, "zero": false}, "axis": {"orient": "right", "values": [-10, 0, 10], "labels": false, "title": ["-0.59", "POV"], "titleColor": "#FF0000", "titleFontSize": 29.5, "titleFontWeight": "bold", "titleAngle": 270, "titleBaseline": "top", "titlePadding": -30.5, "titleLineHeight": 37.5}}
     }}
  ]
},
{
  "width": 1350, "height": 99,
  "resolve": {"scale": {"x": "independent", "y": "independent"}},
  "layer": [
    {"data": {"name": "mindist"}, "mark": {"type": "line", "clip": true, "strokeWidth": 1.2, "color": "#0072BD"},
     "encoding": {
       "x": {"field": "t", "type": "quantitative", "scale": {"domain": [0, 18], "nice": false, "zero": false}, "axis": {"orient": "bottom", "values": [0,2,4,6,8,10,12,14,16,18], "labels": false, "title": null}},
       "y": {"field": "v", "type": "quantitative", "scale": {"domain": [-1, 159], "nice": false, "zero": false}, "axis": {"orient": "left", "values": [0, 50, 100, 150], "title": ["Min. Dist.", "(ft)"]}}
     }},
    {"data": {"name": "mindist_pt"}, "mark": {"type": "point", "shape": "circle", "filled": true, "size": 324, "fill": "#00FF00", "stroke": "#1a1a1a", "strokeWidth": 1, "opacity": 1},
     "encoding": {
       "x": {"field": "t", "type": "quantitative", "scale": {"domain": [0, 18], "nice": false, "zero": false}, "axis": null},
       "y": {"field": "v", "type": "quantitative", "scale": {"domain": [-1, 159], "nice": false, "zero": false}, "axis": null}
     }},
    {"data": {"name": "mindist"}, "mark": {"type": "point", "opacity": 0, "clip": true},
     "encoding": {
       "x": {"field": "t", "type": "quantitative", "scale": {"domain": [0, 18], "nice": false, "zero": false}, "axis": {"orient": "top", "values": [0,2,4,6,8,10,12,14,16,18], "labels": false, "title": null}},
       "y": {"field": "v", "type": "quantitative", "scale": {"domain": [-1, 159], "nice": false, "zero": false}, "axis": {"orient": "right", "values": [0, 50, 100, 150], "labels": false, "title": "2.33", "titleColor": "#008000", "titleFontSize": 29.5, "titleFontWeight": "bold", "titleAngle": 270, "titleBaseline": "top", "titlePadding": 7, "titleLineHeight": 37.5}}
     }}
  ]
},
{
  "width": 1350, "height": 99,
  "resolve": {"scale": {"x": "independent", "y": "independent"}},
  "layer": [
    {"data": {"name": "pathdev"}, "mark": {"type": "line", "clip": true, "strokeWidth": 1.2, "color": "#0072BD"},
     "encoding": {
       "x": {"field": "t", "type": "quantitative", "scale": {"domain": [0, 18], "nice": false, "zero": false}, "axis": {"orient": "bottom", "values": [0,2,4,6,8,10,12,14,16,18], "title": "Time (sec)"}},
       "y": {"field": "v", "type": "quantitative", "scale": {"domain": [-18.2, 48.5], "nice": false, "zero": false}, "axis": {"orient": "left", "values": [0, 20, 40], "title": ["SV Path", "Dev.", "(ft)"]}}
     }},
    {"data": {"name": "path_box"}, "mark": {"type": "rect", "fill": "#1f3a1f", "stroke": "#555555", "strokeWidth": 1, "strokeOpacity": 0.7},
     "encoding": {
       "x": {"field": "t", "type": "quantitative", "scale": {"domain": [0, 18], "nice": false, "zero": false}, "axis": null},
       "x2": {"field": "t2"},
       "y": {"field": "v", "type": "quantitative", "scale": {"domain": [-18.2, 48.5], "nice": false, "zero": false}, "axis": null},
       "y2": {"field": "v2"}
     }},
    {"data": {"name": "footer"}, "mark": {"type": "text", "align": "right", "baseline": "middle", "font": "Liberation Sans", "fontSize": 29.5, "fontWeight": "bold", "color": "#008000"},
     "encoding": {
       "x": {"field": "t", "type": "quantitative", "scale": {"domain": [0, 18], "nice": false, "zero": false}, "axis": null},
       "y": {"field": "v", "type": "quantitative", "scale": {"domain": [-18.2, 48.5], "nice": false, "zero": false}, "axis": null},
       "text": {"field": "label"}
     }},
    {"data": {"name": "footer_rule"}, "mark": {"type": "rule", "color": "#4472C4", "strokeWidth": 2.5},
     "encoding": {
       "x": {"field": "t", "type": "quantitative", "scale": {"domain": [0, 18], "nice": false, "zero": false}, "axis": null},
       "x2": {"field": "t2"},
       "y": {"field": "v", "type": "quantitative", "scale": {"domain": [-18.2, 48.5], "nice": false, "zero": false}, "axis": null}
     }},
    {"data": {"name": "pathdev"}, "mark": {"type": "point", "opacity": 0, "clip": true},
     "encoding": {
       "x": {"field": "t", "type": "quantitative", "scale": {"domain": [0, 18], "nice": false, "zero": false}, "axis": {"orient": "top", "values": [0,2,4,6,8,10,12,14,16,18], "labels": false, "title": null}},
       "y": {"field": "v", "type": "quantitative", "scale": {"domain": [-18.2, 48.5], "nice": false, "zero": false}, "axis": {"orient": "right", "values": [0, 20, 40], "labels": false, "title": null}}
     }}
  ]
}
]
}
